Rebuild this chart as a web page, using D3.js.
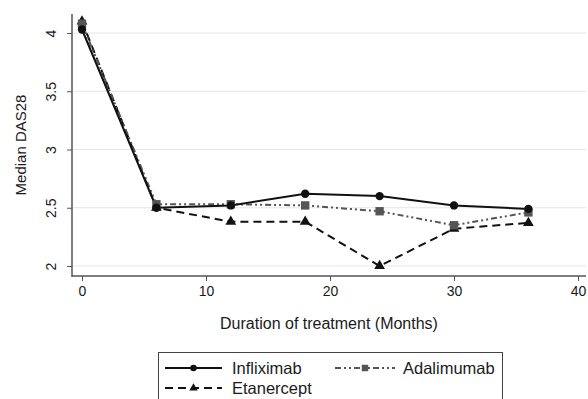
<!DOCTYPE html>
<html><head><meta charset="utf-8">
<script src="https://cdn.jsdelivr.net/npm/d3@7"></script>
<style>body{margin:0;background:#fff}svg{display:block;font-family:"Liberation Sans",Arial,sans-serif}</style>
</head><body><svg id="c" width="588" height="399"></svg>
<script>
const months = [0, 6, 12, 18, 24, 30, 36];
const infliximab = [4.03, 2.50, 2.52, 2.62, 2.60, 2.52, 2.49];
const adalimumab = [4.08, 2.53, 2.53, 2.52, 2.47, 2.35, 2.46];
const etanercept = [4.10, 2.50, 2.38, 2.38, 2.00, 2.32, 2.37];
const xTicks = [0, 10, 20, 30, 40];
const yTicks = [2, 2.5, 3, 3.5, 4];
const seriesNames = ["Infliximab", "Adalimumab", "Etanercept"];

(function(){
const svg = d3.select("#c");
const x = d3.scaleLinear().domain([0, 40]).range([82, 578]);
const y = d3.scaleLinear().domain([2, 4]).range([266, 33]);
const pLeft = 72, pBottom = 276, pTop = 14, pRight = 586;
const txt = "#1a1a1a";

// gridlines
svg.append("g").selectAll("line").data(yTicks).join("line")
  .attr("x1", pLeft + 1).attr("x2", pRight).attr("y1", d => y(d)).attr("y2", d => y(d))
  .attr("stroke", "#e6e6e6").attr("stroke-width", 1);

// axes
const yAxis = svg.append("g").attr("transform", `translate(${pLeft},0)`)
  .call(d3.axisLeft(y).tickValues(yTicks).tickSize(5).tickFormat(d3.format("~g")));
yAxis.select(".domain").remove();
yAxis.selectAll("line").attr("stroke", "#555");
yAxis.selectAll(".tick text")
  .attr("transform", "translate(-21,0) rotate(-90)")
  .attr("x", 0).attr("y", 0).attr("dy", null)
  .attr("text-anchor", "middle").attr("dominant-baseline", "central")
  .attr("font-size", 14).attr("fill", txt);

const xAxis = svg.append("g").attr("transform", `translate(0,${pBottom})`)
  .call(d3.axisBottom(x).tickValues(xTicks).tickSize(5).tickPadding(5));
xAxis.select(".domain").remove();
xAxis.selectAll("line").attr("stroke", "#555");
xAxis.selectAll("text").attr("font-size", 14).attr("fill", txt);

svg.append("line").attr("x1", pLeft).attr("x2", pLeft).attr("y1", pTop).attr("y2", pBottom + 1)
  .attr("stroke", "#555").attr("stroke-width", 1.5);
svg.append("line").attr("x1", pLeft).attr("x2", pRight).attr("y1", pBottom).attr("y2", pBottom)
  .attr("stroke", "#555").attr("stroke-width", 1.5);

// titles
svg.append("text").attr("transform", `translate(20,145) rotate(-90)`)
  .attr("text-anchor", "middle").attr("dominant-baseline", "central")
  .attr("font-size", 15).attr("fill", txt).text("Median DAS28");
svg.append("text").attr("x", 329).attr("y", 329).attr("text-anchor", "middle")
  .attr("font-size", 16).attr("fill", txt).text("Duration of treatment (Months)");

// series
const series = [
  {name: seriesNames[0], vals: infliximab, color: "#111", dash: null, shape: d3.symbolCircle, size: 55},
  {name: seriesNames[1], vals: adalimumab, color: "#555", dash: "6,3,2,3,2,3", shape: d3.symbolSquare, size: 70},
  {name: seriesNames[2], vals: etanercept, color: "#111", dash: "8,5", shape: d3.symbolTriangle, size: 50}
];
const line = d3.line().x(d => x(d[0])).y(d => y(d[1]));
const drawOrder = [2, 1, 0];
drawOrder.forEach(i => {
  const s = series[i];
  const pts = months.map((m, j) => [m, s.vals[j]]);
  svg.append("path").datum(pts).attr("d", line).attr("fill", "none")
    .attr("stroke", s.color).attr("stroke-width", 2).attr("stroke-dasharray", s.dash);
});
drawOrder.forEach(i => {
  const s = series[i];
  const pts = months.map((m, j) => [m, s.vals[j]]);
  svg.append("g").selectAll("path").data(pts).join("path")
    .attr("transform", d => `translate(${x(d[0])},${y(d[1])})`)
    .attr("d", d3.symbol().type(s.shape).size(s.size)).attr("fill", s.color);
});

// legend
const lg = svg.append("g");
lg.append("rect").attr("x", 158.5).attr("y", 352.5).attr("width", 344).attr("height", 60)
  .attr("fill", "#fff").attr("stroke", "#444").attr("stroke-width", 1);
const legendPos = [
  {i: 0, x0: 165, x1: 222, ty: 368, tx: 232},
  {i: 1, x0: 335, x1: 395, ty: 368, tx: 403},
  {i: 2, x0: 165, x1: 222, ty: 388, tx: 232}
];
legendPos.forEach(p => {
  const s = series[p.i];
  lg.append("line").attr("x1", p.x0).attr("x2", p.x1).attr("y1", p.ty).attr("y2", p.ty)
    .attr("stroke", s.color).attr("stroke-width", 2).attr("stroke-dasharray", s.dash);
  lg.append("path").attr("transform", `translate(${(p.x0 + p.x1) / 2},${p.ty})`)
    .attr("d", d3.symbol().type(s.shape).size(s.size * 0.6)).attr("fill", s.color);
  lg.append("text").attr("x", p.tx).attr("y", p.ty).attr("dominant-baseline", "central")
    .attr("font-size", 16.5).attr("fill", txt).text(s.name);
});
})();
</script></body></html>
